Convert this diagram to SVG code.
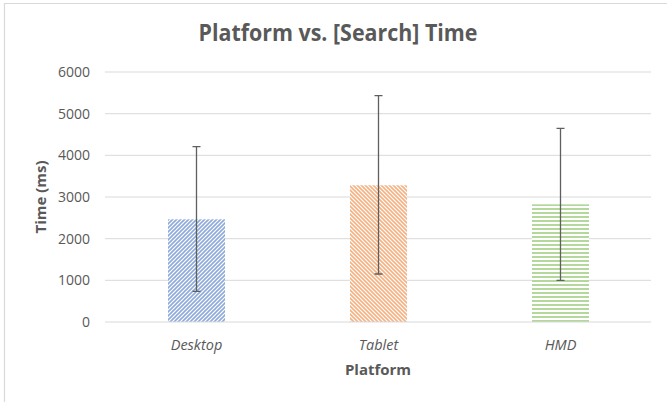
<svg xmlns="http://www.w3.org/2000/svg" width="667" height="402" viewBox="0 0 667 402">
<defs>
<style>
.grid{stroke:#d9d9d9;stroke-width:1;fill:none}
.tick{font-family:"Open Sans","Liberation Sans",sans-serif;font-size:14px;fill:#595959;text-anchor:end}
.cat{font-family:"Open Sans","Liberation Sans",sans-serif;font-size:14.5px;font-style:italic;fill:#595959;text-anchor:middle}
.axt{font-family:"Open Sans","Liberation Sans",sans-serif;font-size:15px;font-weight:bold;fill:#595959;text-anchor:middle}
.title{font-family:"Open Sans","Liberation Sans",sans-serif;font-size:22.5px;font-weight:bold;fill:#595959;text-anchor:middle}
.err{stroke:#5f5f5f;stroke-width:1.3;fill:none}
</style>
<pattern id="pBlue" width="4" height="4" patternUnits="userSpaceOnUse">
<rect width="4" height="4" fill="#ffffff"/>
<path d="M0,4 L4,0 M-1,1 L1,-1 M3,5 L5,3" stroke="#8eaadb" stroke-width="1.6"/>
</pattern>
<pattern id="pOrange" width="4" height="4" patternUnits="userSpaceOnUse">
<rect width="4" height="4" fill="#ffffff"/>
<path d="M0,0 L4,4 M-1,3 L1,5 M3,-1 L5,1" stroke="#f4b183" stroke-width="1.6"/>
</pattern>
<pattern id="pGreen" width="4" height="4" patternUnits="userSpaceOnUse">
<rect width="4" height="4" fill="#ffffff"/>
<rect y="0" width="4" height="2" fill="#b4d79b"/>
</pattern>
</defs>
<rect width="667" height="402" fill="#ffffff"/>
<path d="M4.5,402 L4.5,3.5 L667,3.5" stroke="#d9d9d9" stroke-width="1.2" fill="none"/>
<text class="title" x="338" y="41" textLength="279" lengthAdjust="spacingAndGlyphs">Platform vs. [Search] Time</text>
<g id="gridlines">
<line class="grid" x1="105" y1="72" x2="651" y2="72"/>
<line class="grid" x1="105" y1="113.7" x2="651" y2="113.7"/>
<line class="grid" x1="105" y1="155.3" x2="651" y2="155.3"/>
<line class="grid" x1="105" y1="197" x2="651" y2="197"/>
<line class="grid" x1="105" y1="238.7" x2="651" y2="238.7"/>
<line class="grid" x1="105" y1="280.3" x2="651" y2="280.3"/>
</g>
<g id="yticks">
<text class="tick" x="90" y="77">6000</text>
<text class="tick" x="90" y="118.7">5000</text>
<text class="tick" x="90" y="160.3">4000</text>
<text class="tick" x="90" y="202">3000</text>
<text class="tick" x="90" y="243.7">2000</text>
<text class="tick" x="90" y="285.3">1000</text>
<text class="tick" x="90" y="327">0</text>
</g>
<text class="axt" transform="translate(46,197) rotate(-90)">Time (ms)</text>
<g id="desktop">
<rect x="168" y="219.3" width="57" height="102.7" fill="url(#pBlue)"/>
<text class="cat" x="196.5" y="350">Desktop</text>
</g>
<g id="tablet">
<rect x="350" y="185.3" width="57" height="136.7" fill="url(#pOrange)"/>
<text class="cat" x="378.5" y="350">Tablet</text>
</g>
<g id="hmd">
<rect x="532" y="204.3" width="57" height="117.7" fill="url(#pGreen)"/>
<text class="cat" x="560.5" y="350">HMD</text>
</g>
<line class="grid" x1="105" y1="322" x2="651" y2="322"/>
<g id="connectors">
<path class="err" d="M196.5,146.7 V291.3 M192.5,146.7 H200.5 M192.5,291.3 H200.5"/>
<path class="err" d="M378.5,95.7 V274 M374.5,95.7 H382.5 M374.5,274 H382.5"/>
<path class="err" d="M560.5,128.3 V280.3 M556.5,128.3 H564.5 M556.5,280.3 H564.5"/>
</g>
<text class="axt" x="378" y="375">Platform</text>
</svg>
